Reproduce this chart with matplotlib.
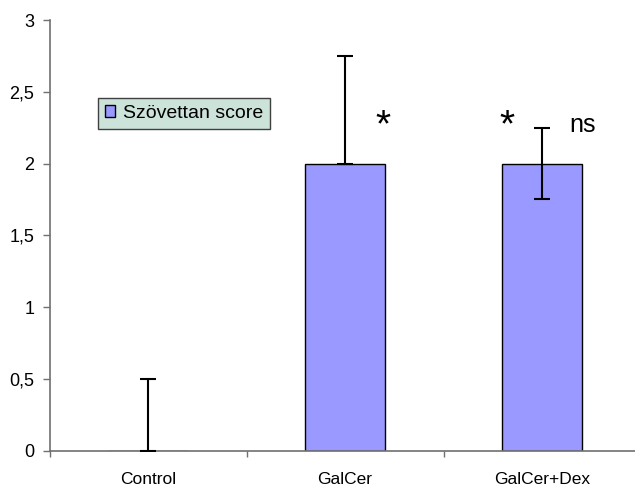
import numpy as np
import matplotlib
matplotlib.use("Agg")
import matplotlib.pyplot as plt
from matplotlib.ticker import FixedLocator, FuncFormatter

plt.rcParams['font.family'] = ['Liberation Sans', 'DejaVu Sans']

# data
groups = ["Control", "GalCer", "GalCer+Dex"]
scores = [0.0, 2.0, 2.0]
err_low = [0.0, 0.0, 0.25]
err_high = [0.5, 0.75, 0.25]
series_name = "Szövettan score"

# significance marks: (label, x, y)
stars = [(1.19, 2.19), (1.82, 2.19)]
ns_mark = ("ns", 2.205, 2.27)

fig = plt.figure(figsize=(6.35, 4.86), dpi=100)
ax = fig.add_axes([49.6 / 635, 35.3 / 486, 591 / 635, 430.7 / 486])

x = np.arange(len(groups))
ax.bar(x, scores, width=0.405, color="#9999FF", edgecolor="black",
       linewidth=1.0, label=series_name, zorder=2)
ax.errorbar(x, scores, yerr=[err_low, err_high], fmt="none", ecolor="black",
            elinewidth=1.5, capsize=6, capthick=1.5, zorder=3)

for sx, sy in stars:
    ax.text(sx, sy, "*", fontsize=28, ha="center", va="baseline")
ax.text(ns_mark[1], ns_mark[2], ns_mark[0], fontsize=18, ha="center", va="center")

ax.set_xlim(-0.5, 2.5)
ax.set_ylim(0, 3)
ax.set_yticks(np.arange(0, 3.01, 0.5))
ax.yaxis.set_major_formatter(FuncFormatter(lambda v, p: f"{v:g}".replace(".", ",")))

ax.set_xticks(x)
ax.set_xticklabels(groups)
ax.xaxis.set_minor_locator(FixedLocator([-0.5, 0.5, 1.5, 2.5]))
ax.tick_params(axis="x", which="major", length=0, pad=15, labelsize=12.5)
ax.tick_params(axis="x", which="minor", length=4, color="#707070", width=1)
ax.tick_params(axis="y", length=5, color="#707070", width=1, pad=6, labelsize=13)

for s in ["top", "right"]:
    ax.spines[s].set_visible(False)
for s in ["left", "bottom"]:
    ax.spines[s].set_color("#707070")
    ax.spines[s].set_linewidth(1.2)

leg = ax.legend(loc="upper left", bbox_to_anchor=(97.7 / 635, 1 - 98 / 486),
                bbox_transform=fig.transFigure, fontsize=14, frameon=True,
                fancybox=False, borderaxespad=0, borderpad=0.35,
                handlelength=0.55, handleheight=0.55, handletextpad=0.4)
frame = leg.get_frame()
frame.set_facecolor("#CCE3DA")
frame.set_edgecolor("#404040")
frame.set_linewidth(1.0)
frame.set_alpha(1)

fig.savefig("out.png", dpi=100)
